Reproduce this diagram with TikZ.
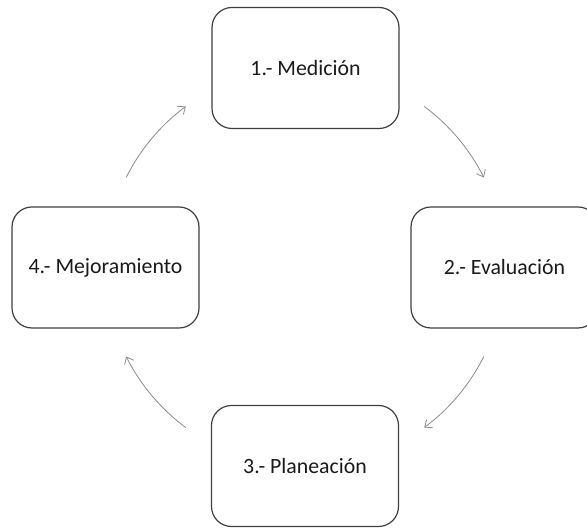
\documentclass[tikz,border=0pt]{standalone}
\usepackage{fontspec}
\setmainfont{Carlito}
\usetikzlibrary{arrows.meta}
\definecolor{boxline}{HTML}{404040}
\definecolor{arrline}{HTML}{8C8C8C}
\definecolor{txt}{HTML}{1A1A1A}
\begin{document}
\begin{tikzpicture}[x=1pt,y=1pt,
  stagebox/.style={draw=boxline, line width=1.2pt, rounded corners=20pt, fill=white,
    minimum width=187pt, minimum height=121pt, inner sep=0pt,
    text=txt, font=\fontsize{21.8}{26}\selectfont},
  cyclearrow/.style={draw=arrline, line width=0.8pt, -{Straight Barb[length=6pt,width=10pt]}}]
\useasboundingbox[fill=white] (0,0) rectangle (587,529);
\node[stagebox] (med) at (305.5,461) {1.- Medición};
\node[stagebox] (eva) at (504.5,261.5) {2.- Evaluación};
\node[stagebox] (pla) at (305,63) {3.- Planeación};
\node[stagebox] (mej) at (105.5,261.5) {4.- Mejoramiento};
\coordinate (O) at (305,262);
\coordinate (a1) at ([shift={(53.4:200)}]O);
\coordinate (a2) at ([shift={(-26.6:200)}]O);
\coordinate (a3) at ([shift={(233.4:200)}]O);
\coordinate (a4) at ([shift={(153.4:200)}]O);
\draw[cyclearrow] (a1) arc[start angle=53.4, end angle=26.6, radius=200];
\draw[cyclearrow] (a2) arc[start angle=-26.6, end angle=-53.4, radius=200];
\draw[cyclearrow] (a3) arc[start angle=233.4, end angle=206.6, radius=200];
\draw[cyclearrow] (a4) arc[start angle=153.4, end angle=126.6, radius=200];
\end{tikzpicture}
\end{document}
